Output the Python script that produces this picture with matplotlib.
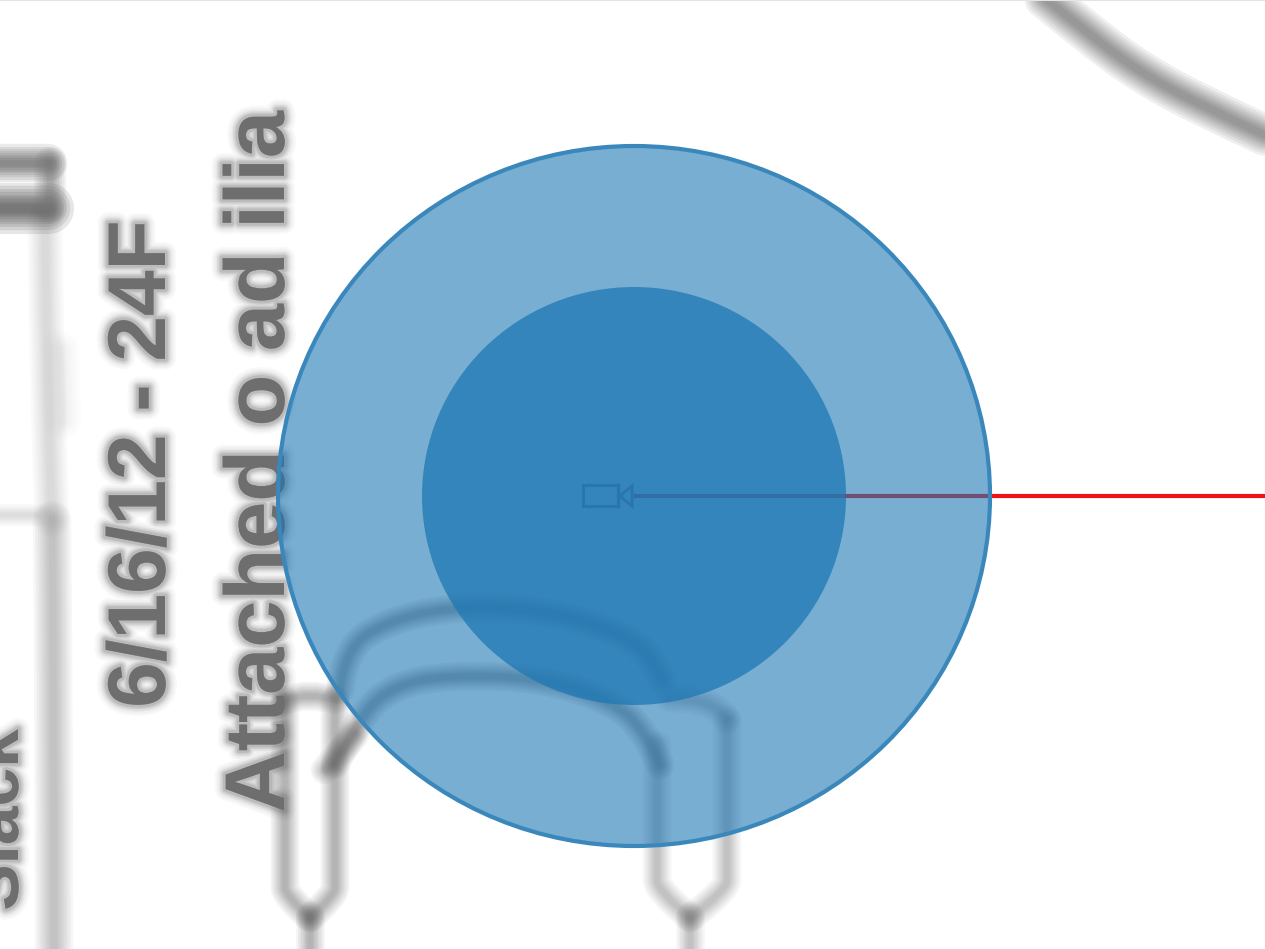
import matplotlib
matplotlib.use("Agg")
import matplotlib.pyplot as plt
import matplotlib.patheffects as pe
from matplotlib.patches import Ellipse, Rectangle, Polygon, PathPatch
from matplotlib.path import Path

# values (image pixel coordinates)
center = (634, 496)
outer_size = (712, 700)
inner_size = (424, 418)
sight_line_x = [634, 1265]
sight_line_y = [496, 496]
camera_body = (583, 485, 35, 21)
camera_lens = [(620, 496), (632, 486), (632, 506)]

labels = ["6/16/12 - 24F", "Attached o ad ilia", "Slack"]
label_x = [144, 262, 0]
label_y = [464, 462, 820]
label_sizes = [59, 61, 50]

road_x = [1045, 1090, 1140, 1200, 1265]
road_y = [-2, 35, 72, 105, 135]
left_rail_x = [45, 47, 52, 54, 54]
left_rail_y = [220, 400, 520, 700, 949]
arch_outer_x = [340, 345, 385, 450, 530, 600, 650, 662]
arch_outer_y = [690, 650, 622, 607, 608, 625, 650, 680]
arch_inner_x = [335, 360, 395, 450, 540, 610, 645, 660]
arch_inner_y = [765, 715, 685, 675, 678, 700, 730, 765]
rail_a_x = [[285, 285, 285, 310], [335, 335, 335, 310], [310, 310], [285, 310, 335]]
rail_a_y = [[700, 880, 895, 918], [700, 880, 895, 918], [915, 949], [700, 692, 700]]
rail_b_x = [[657, 657, 657, 690], [727, 727, 727, 690], [690, 690], [670, 715, 727]]
rail_b_y = [[745, 870, 890, 918], [720, 870, 890, 918], [915, 949], [698, 698, 720]]

fig = plt.figure(figsize=(12.65, 9.49), dpi=100, facecolor="white")
ax = fig.add_axes([0, 0, 1, 1])
ax.set_xlim(0, 1265)
ax.set_ylim(949, 0)
ax.axis("off")


def smooth_path(xs, ys):
    pts = list(zip(xs, ys))
    if len(pts) < 3:
        return Path(pts)
    verts = [pts[0]]
    codes = [Path.MOVETO]
    for i in range(1, len(pts) - 1):
        end = pts[i + 1] if i == len(pts) - 2 else (
            (pts[i][0] + pts[i + 1][0]) / 2, (pts[i][1] + pts[i + 1][1]) / 2)
        verts += [pts[i], end]
        codes += [Path.CURVE3, Path.CURVE3]
    return Path(verts, codes)


def soft(xs, ys, width, grey="#5a5a5a", strength=0.5, z=1):
    path = smooth_path(xs, ys)
    for f in (2.3, 2.0, 1.7, 1.45, 1.2, 1.0, 0.8, 0.6, 0.4):
        ax.add_patch(PathPatch(path, fc="none", ec=grey, lw=width * f,
                               alpha=0.16 * strength, capstyle="round",
                               joinstyle="round", zorder=z))


soft(road_x, road_y, 13, "#555555", 0.6)
soft(left_rail_x[:3], left_rail_y[:3], 11, "#aaaaaa", 0.35)
soft(left_rail_x[2:], left_rail_y[2:], 12, "#999999", 0.55)
soft([0, 42], [515, 515], 7, "#bbbbbb", 0.4)
soft([60, 62], [350, 420], 12, "#cccccc", 0.25)
soft([0, 48], [163, 163], 12, "#555555", 0.7)
soft([0, 48], [208, 208], 16, "#444444", 0.8)
soft([50, 50], [163, 208], 10, "#777777", 0.6)
soft(arch_outer_x, arch_outer_y, 9, "#444444", 0.42)
soft(arch_inner_x, arch_inner_y, 9, "#444444", 0.42)
for xs, ys in zip(rail_a_x, rail_a_y):
    soft(xs, ys, 9, "#666666", 0.42)
for xs, ys in zip(rail_b_x, rail_b_y):
    soft(xs, ys, 9, "#777777", 0.36)
soft([325, 355], [770, 735], 9, "#666666", 0.4)

blur = [pe.Stroke(linewidth=w, foreground="#666666", alpha=a)
        for w, a in [(16, .04), (13, .05), (10, .07), (8, .09), (6, .12), (4, .16)]] + [pe.Normal()]
for s, x, y, size in zip(labels, label_x, label_y, label_sizes):
    ax.text(x, y, s, rotation=90, ha="center", va="center", fontsize=size,
            family="Liberation Sans", fontweight="bold", color="#6e6e6e",
            path_effects=blur, zorder=2)

ax.plot([0, 1265], [0, 0], color="#e4e4e4", lw=1.5, zorder=1)
ax.plot(sight_line_x, sight_line_y, color="#f0101c", lw=3, zorder=3,
        solid_capstyle="butt")
ax.add_patch(Ellipse(center, *outer_size, fc="#1f78b4", ec="none", alpha=.6, zorder=4))
ax.add_patch(Ellipse(center, *outer_size, fc="none", ec="#3a87bc", lw=3, zorder=4))
ax.add_patch(Ellipse(center, *inner_size, fc="#1f78b4", ec="none", alpha=.76, zorder=5))

x0, y0, w, h = camera_body
ax.add_patch(Rectangle((x0, y0), w, h, fc="none", ec="#2876ad", lw=2.2, zorder=6))
ax.add_patch(Polygon(camera_lens, closed=True, fc="none", ec="#2876ad", lw=2.2, zorder=6))

fig.savefig("out.png", dpi=100, facecolor="white")
